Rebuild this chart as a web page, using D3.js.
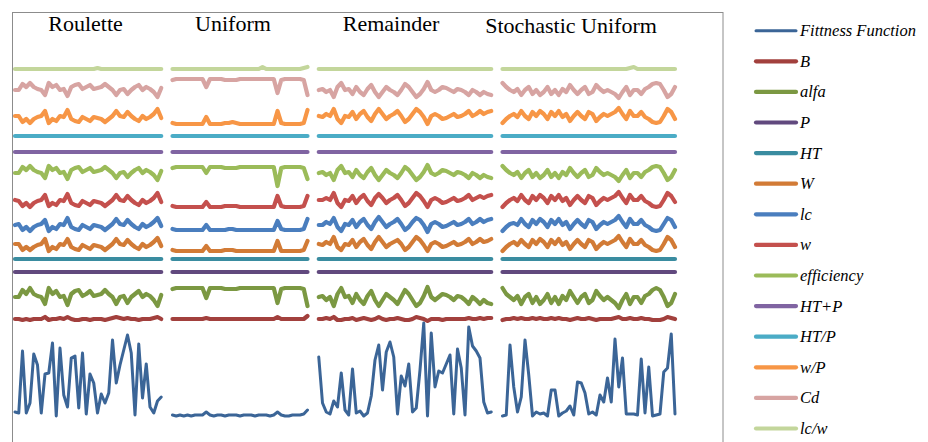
<!DOCTYPE html>
<meta charset="utf-8">

<!-- Load d3.js -->
<script src="https://cdn.jsdelivr.net/npm/d3@7"></script>

<style>
  body { margin: 0; background: #fff; }
</style>

<!-- Create a div where the graph will take place -->
<div id="chart"></div>

<script>

// selection methods, one panel each, and how many generations each one has
var methods = ["Roulette", "Uniform", "Remainder", "Stochastic Uniform"]
var counts = [40, 37, 47, 47]

// series names as in the legend (top to bottom)
var names = ["Fittness Function", "B", "alfa", "P", "HT", "W", "lc", "w",
             "efficiency", "HT+P", "HT/P", "w/P", "Cd", "lc/w"]

// values for every series: [Roulette, Uniform, Remainder, Stochastic Uniform]
var fitness = [
  [8,7,69,7,17,66,55,7,46,47,77,4,72,25,13,62,64,12,67,6,46,37,7,26,17,27,80,37,55,70,85,67,5,76,22,56,13,7,19,23],
  [5,4,5,4,5,4,5,5,5,8,5,4,5,5,4,5,5,5,4,5,5,5,4,5,5,5,4,5,8,5,4,4,5,5,5,6,10],
  [63,17,8,6,19,13,47,10,5,51,7,9,4,7,24,60,75,30,68,78,63,6,44,34,56,8,12,50,97,4,87,33,49,47,56,65,6,71,52,5,93,74,69,62,18,7,8],
  [4,5,75,33,8,23,80,45,4,8,6,7,4,30,30,4,7,9,14,5,38,37,27,6,8,5,25,18,42,18,81,33,62,6,6,6,5,61,7,53,4,5,6,48,52,86,6]
]
var B = [
  [3,3,2,3,2,3,3,3,5,2,3,3,4,3,5,3,2,2,3,3,2,3,3,3,2,3,4,5,4,3,4,3,3,2,3,3,3,4,5,3],
  [3,3,3,3,3,3,3,3,3,4, 3,3,3,3,3,3,3,3,3,3, 3,3,3,3,3,3,3,3,5,3, 3,3,3,3,3,3,6],
  [3,3,4,3,5,2,2,3,3,4,2,3,4,3,2,3,5,3,2,3,3,4,3,2,2,3,5,4,3,1,3,3,3,2,3,3,3,3,3,3,4,3,3,4,3,4,4],
  [2,3,3,4,3,4,3,3,4,3,4,3,3,4,3,4,3,3,2,3,4,3,3,4,3,2,3,3,3,3,4,5,3,3,4,3,3,4,3,3,2,2,2,3,5,4,3]
]
var alfa = [
  [13,13,20,16,22,16,14,13,6,22,16,19,13,14,5,16,19,20,14,16,19,14,15,16,20,16,13,6,13,14,7,13,16,19,13,16,14,10,4,15],
  [21,22,22,22,22,22,22,22,22,12, 22,22,22,22,21,21,21,21,22,22, 22,22,22,22,22,22,22,22,7,21, 22,22,22,22,22,21,4],
  [13,14,10,13,4,16,22,13,14,7,16,10,6,14,19,10,4,10,16,13,10,6,13,20,16,10,4,7,14,23,13,10,13,16,15,13,10,14,13,10,6,13,10,6,10,7,6],
  [22,16,13,10,14,6,13,16,7,13,6,10,16,7,13,6,14,10,19,13,7,13,16,7,10,19,14,10,13,10,7,2,10,16,6,13,13,7,14,16,20,22,20,13,4,7,16]
]
var P = [
  [4,4,4,4,4,4,4,4,4,4, 4,4,4,4,4,4,4,4,4,4, 4,4,4,4,4,4,4,4,4,4, 4,4,4,4,4,4,4,4,4,4],
  [4,4,4,4,4,4,4,4,4,4, 4,4,4,4,4,4,4,4,4,4, 4,4,4,4,4,4,4,4,4,4, 4,4,4,4,4,4,4],
  [4,4,4,4,4,4,4,4,4,4, 4,4,4,4,4,4,4,4,4,4, 4,4,4,4,4,4,4,4,4,4, 4,4,4,4,4,4,4,4,4,4, 4,4,4,4,4,4,4],
  [4,4,4,4,4,4,4,4,4,4, 4,4,4,4,4,4,4,4,4,4, 4,4,4,4,4,4,4,4,4,4, 4,4,4,4,4,4,4,4,4,4, 4,4,4,4,4,4,4]
]
var HT = [
  [4,4,4,4,4,4,4,4,4,4, 4,4,4,4,4,4,4,4,4,4, 4,4,4,4,4,4,4,4,4,4, 4,4,4,4,4,4,4,4,4,4],
  [4,4,4,4,4,4,4,4,4,4, 4,4,4,4,4,4,4,4,4,4, 4,4,4,4,4,4,4,4,4,4, 4,4,4,4,4,4,4],
  [4,4,4,4,4,4,4,4,4,4, 4,4,4,4,4,4,4,4,4,4, 4,4,4,4,4,4,4,4,4,4, 4,4,4,4,4,4,4,4,4,4, 4,4,4,4,4,4,4],
  [4,4,4,4,4,4,4,4,4,4, 4,4,4,4,4,4,4,4,4,4, 4,4,4,4,4,4,4,4,4,4, 4,4,4,4,4,4,4,4,4,4, 4,4,4,4,4,4,4]
]
var Wbig = [
  [12,12,6,9,6,9,11,12,17,5,9,7,12,11,17,9,7,6,11,9,7,11,10,9,6,9,12,17,12,11,16,12,9,7,12,9,11,14,18,10],
  [6,5,5,5,5,5,5,5,5,10, 5,5,5,5,6,6,6,5,5,5, 5,5,5,5,5,5,5,5,15,5, 5,5,5,5,5,6,15],
  [12,11,14,12,19,9,6,12,11,16,9,14,17,11,7,14,19,14,9,12,14,16,12,6,9,14,19,16,11,5,12,14,12,9,10,12,14,11,12,14,17,12,14,17,14,15,17],
  [5,9,12,14,11,16,12,9,16,12,17,14,9,16,12,17,11,14,7,12,16,12,9,16,14,7,11,14,12,14,16,20,14,9,17,12,12,16,11,9,6,5,6,12,19,16,9]
]
var lc = [
  [11,12,6,9,5,9,11,12,16,5,9,7,12,11,18,9,7,6,11,9,7,11,10,9,6,9,12,17,12,11,16,12,9,7,12,9,11,14,18,10],
  [7,6,6,6,6,6,6,6,6,11, 6,6,6,6,6,7,7,6,6,6, 6,6,6,6,6,6,6,6,15,7, 6,6,6,6,6,7,17],
  [11,11,14,12,18,9,5,12,11,16,9,14,17,11,7,14,19,14,9,12,14,17,12,6,9,14,18,16,11,4,12,14,12,9,10,12,14,11,12,14,17,12,14,17,14,16,17],
  [5,9,12,13,11,17,12,9,16,12,17,14,9,16,12,17,11,14,7,12,16,12,9,16,14,7,11,14,12,14,16,20,14,9,17,12,12,16,11,9,6,5,6,12,18,16,9]
]
var wSmall = [
  [12,11,6,9,5,9,11,12,17,6,9,7,12,11,18,9,7,6,11,9,7,11,10,9,6,9,12,17,12,11,16,12,9,7,12,9,11,14,19,10],
  [6,5,5,5,5,5,5,5,5,10, 5,5,5,5,6,6,6,6,5,5, 5,5,5,5,5,5,5,5,16,6, 5,5,5,5,5,6,16],
  [12,12,14,12,19,9,5,12,11,16,9,14,17,11,7,14,18,14,9,12,14,17,12,6,9,14,19,16,11,5,12,14,12,9,10,12,14,11,12,14,17,12,14,16,14,16,17],
  [5,9,12,14,11,17,12,9,16,12,17,14,9,16,12,17,11,14,7,12,16,12,9,16,14,7,11,14,12,14,16,20,14,9,17,12,12,16,11,9,6,5,6,12,19,16,10]
]
var efficiency = [
  [17,17,23,20,24,20,18,17,12,24,20,22,17,18,11,20,22,23,18,20,22,18,19,20,23,20,17,12,17,18,13,17,20,22,17,20,18,15,10,19],
  [22,23,23,23,23,23,23,23,23,17, 23,23,23,23,22,22,22,22,23,23, 23,23,23,23,23,23,23,23,4,22, 23,23,23,23,23,22,11],
  [17,18,15,17,10,20,24,17,18,13,20,15,12,18,22,15,10,15,20,17,15,12,17,23,20,15,10,13,18,25,17,15,17,20,19,17,15,18,17,15,12,17,15,12,15,13,12],
  [24,20,17,15,18,12,17,20,13,17,12,15,20,13,17,12,18,15,22,17,13,17,20,13,15,22,18,15,17,15,13,9,15,20,12,17,17,13,18,20,23,24,23,17,10,13,20]
]
var HTplusP = [
  [4,4,4,4,4,4,4,4,4,4, 4,4,4,4,4,4,4,4,4,4, 4,4,4,4,4,4,4,4,4,4, 4,4,4,4,4,4,4,4,4,4],
  [4,4,4,4,4,4,4,4,4,4, 4,4,4,4,4,4,4,4,4,4, 4,4,4,4,4,4,4,4,4,4, 4,4,4,4,4,4,4],
  [4,4,4,4,4,4,4,4,4,4, 4,4,4,4,4,4,4,4,4,4, 4,4,4,4,4,4,4,4,4,4, 4,4,4,4,4,4,4,4,4,4, 4,4,4,4,4,4,4],
  [4,4,4,4,4,4,4,4,4,4, 4,4,4,4,4,4,4,4,4,4, 4,4,4,4,4,4,4,4,4,4, 4,4,4,4,4,4,4,4,4,4, 4,4,4,4,4,4,4]
]
var HToverP = [
  [4,4,4,4,4,4,4,4,4,4, 4,4,4,4,4,4,4,4,4,4, 4,4,4,4,4,4,4,4,4,4, 4,4,4,4,4,4,4,4,4,4],
  [4,4,4,4,4,4,4,4,4,4, 4,4,4,4,4,4,4,4,4,4, 4,4,4,4,4,4,4,4,4,4, 4,4,4,4,4,4,4],
  [4,4,4,4,4,4,4,4,4,4, 4,4,4,4,4,4,4,4,4,4, 4,4,4,4,4,4,4,4,4,4, 4,4,4,4,4,4,4,4,4,4, 4,4,4,4,4,4,4],
  [4,4,4,4,4,4,4,4,4,4, 4,4,4,4,4,4,4,4,4,4, 4,4,4,4,4,4,4,4,4,4, 4,4,4,4,4,4,4,4,4,4, 4,4,4,4,4,4,4]
]
var wOverP = [
  [12,12,6,9,5,9,11,12,17,5,9,7,12,11,18,9,7,6,11,9,7,11,10,9,6,9,12,17,12,11,16,12,9,7,12,9,11,14,19,10],
  [5,4,4,4,4,4,4,4,4,11, 4,4,4,4,5,5,6,5,4,4, 4,4,4,4,4,4,4,4,17,5, 4,4,4,4,4,5,18],
  [12,11,14,12,19,9,5,12,11,16,9,14,17,11,7,14,19,14,9,12,14,17,12,6,9,14,19,16,11,4,12,14,12,9,10,12,14,11,12,14,17,12,14,17,14,16,17],
  [5,9,12,14,11,17,12,9,16,12,17,14,9,16,12,17,11,14,7,12,16,12,9,16,14,7,11,14,12,14,16,20,14,9,17,12,12,16,11,9,6,5,6,12,19,16,9]
]
var Cd = [
  [10,10,16,13,17,13,11,10,5,17,13,15,10,11,4,13,15,16,11,13,15,11,12,13,16,13,10,5,10,11,6,10,13,15,10,13,11,8,3,12],
  [20,21,21,21,21,21,21,21,21,13, 21,21,21,21,20,20,20,20,21,21, 21,21,21,21,21,21,21,21,7,20, 21,21,21,21,21,20,5],
  [10,11,8,10,3,13,17,10,11,6,13,8,5,11,15,8,3,8,13,10,8,5,10,16,13,8,3,6,11,18,10,8,10,13,12,10,8,11,10,8,5,10,8,5,8,6,5],
  [17,13,10,8,11,5,10,13,6,10,5,8,13,6,10,5,11,8,15,10,6,10,13,6,8,15,11,8,10,8,6,2,8,13,5,10,10,6,11,13,16,17,16,10,3,6,13]
]
var lcOverW = [
  [3,3,3,3,3,3,3,3,3,3, 3,3,3,3,3,3,3,3,3,3, 3,3,4,3,3,3,3,3,3,3, 3,3,3,3,3,3,3,3,3,3],
  [3,3,3,3,3,3,3,3,3,3, 3,3,3,3,3,3,3,3,3,3, 3,3,3,3,5,3,3,3,3,3, 3,3,3,3,3,4,5],
  [3,3,3,3,3,3,3,3,3,3, 3,3,3,3,3,3,3,3,3,3, 3,3,3,3,3,3,3,3,3,3, 3,3,3,3,3,3,3,3,3,3, 3,3,3,3,3,3,3],
  [3,3,3,3,3,3,3,3,3,3, 3,3,3,3,3,3,3,3,3,3, 3,3,3,3,3,3,3,3,3,3, 3,3,3,3,4,5,3,3,3,3, 3,3,3,3,3,3,3]
]

var allSeries = [fitness, B, alfa, P, HT, Wbig, lc, wSmall, efficiency, HTplusP, HToverP, wOverP, Cd, lcOverW]

// how far each series is lifted so they do not overlap (same units as the values)
var shift = [0, 98, 110, 144, 157, 164, 184, 208, 230, 264, 280, 292, 320, 348]

var colors = ["#3b6597", "#a2403d", "#7b9842", "#61497e", "#3a8ca0", "#d27b36", "#4a7ebe",
              "#c4504d", "#9bbb59", "#8064a2", "#4bacc6", "#f79646", "#d7a4a2", "#c3d69b"]

// single family name only, a fallback list was not picked up
var serif = "Liberation Serif"

// set the dimensions of the graph
var width = 928, height = 442

var svg = d3.select("#chart")
  .append("svg")
    .attr("width", width)
    .attr("height", height)

// frame around the plot
svg.append("rect")
  .attr("x", 12.5)
  .attr("y", 12.5)
  .attr("width", 710.5)
  .attr("height", 445)
  .style("fill", "none")
  .style("stroke", "#8c8c8c")
  .style("stroke-width", 1)

// each method starts after the previous one plus two empty generations
var start = []
var pos = 0
counts.forEach(function(c) { start.push(pos); pos += c + 2 })
var last = start[3] + counts[3] - 1

var x = d3.scaleLinear()
  .domain([0, last])
  .range([15, 675])

var y = d3.scaleLinear()
  .domain([0, 410])
  .range([420, 10])

// draw series bottom-up
allSeries.forEach(function(series, s) {
  series.forEach(function(vals, m) {
    svg.append("path")
      .datum(vals)
      .attr("d", d3.line()
        .x(function(d, i) { return x(start[m] + i) })
        .y(function(d) { return y(shift[s] + d) })
      )
      .style("fill", "none")
      .style("stroke", colors[s])
      .style("stroke-width", s == 0 ? 3 : 4.2)
      .style("stroke-linejoin", "round")
      .style("stroke-linecap", "round")
  })
})

// method titles
var titleX = [85.5, 233, 391, 571]
var titleY = [31, 31, 31, 33]
svg.selectAll(".title")
  .data(methods)
  .enter()
  .append("text")
    .attr("class", "title")
    .attr("x", function(d, i) { return titleX[i] })
    .attr("y", function(d, i) { return titleY[i] })
    .attr("text-anchor", "middle")
    .attr("font-family", serif)
    .attr("font-size", "22px")
    .style("fill", "#000")
    .text(function(d) { return d })

// legend
var legend = svg.selectAll(".legend")
  .data(names)
  .enter()
  .append("g")
    .attr("class", "legend")
    .attr("transform", function(d, i) { return "translate(0," + (30.7 + i * 30.6) + ")" })

legend.append("line")
  .attr("x1", 756)
  .attr("x2", 796)
  .style("stroke", function(d, i) { return colors[i] })
  .style("stroke-width", function(d, i) { return i == 0 ? 3 : 4.2 })
  .style("stroke-linecap", "round")

legend.append("text")
  .attr("x", 800)
  .attr("y", 5.5)
  .attr("font-family", serif)
  .attr("font-size", "16.5px")
  .attr("font-style", "italic")
  .style("fill", "#000")
  .text(function(d) { return d })

// quick check that every list has the right length
var bad = []
allSeries.forEach(function(series, s) {
  series.forEach(function(vals, m) {
    if (vals.length != counts[m]) bad.push(names[s] + " / " + methods[m] + ": " + vals.length)
  })
})
if (bad.length) throw new Error("length mismatch: " + bad.join(", "))

</script>
